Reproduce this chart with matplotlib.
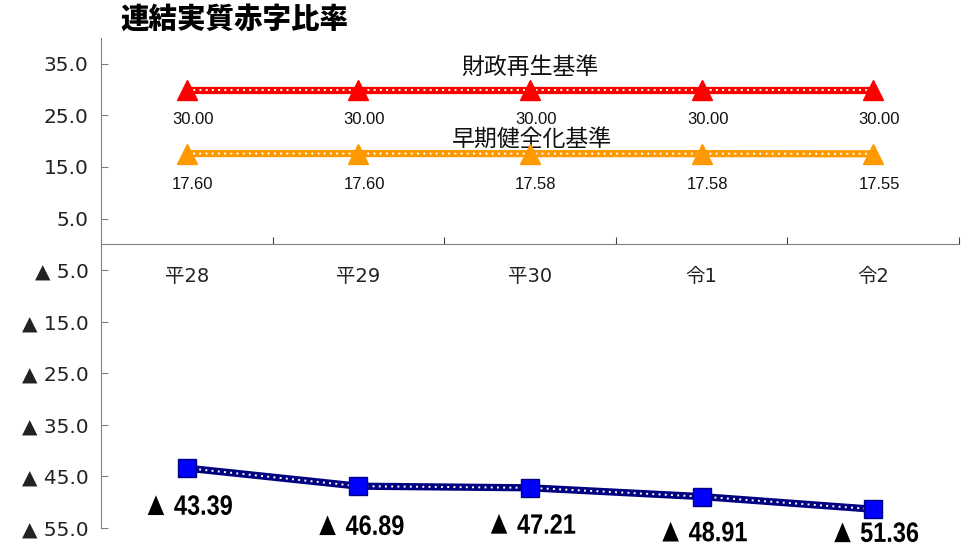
import matplotlib
matplotlib.use("Agg")
import matplotlib.pyplot as plt
from matplotlib.font_manager import FontProperties
from matplotlib.textpath import TextPath
from matplotlib.patches import PathPatch
from matplotlib.path import Path
from matplotlib.transforms import Affine2D

plt.rcParams['font.family'] = ['Noto Sans CJK JP', 'DejaVu Sans']

# Data
categories = ["平28", "平29", "平30", "令1", "令2"]
zaisei_saisei = [30.00, 30.00, 30.00, 30.00, 30.00]
souki_kenzenka = [17.60, 17.60, 17.58, 17.58, 17.55]
renketsu = [-43.39, -46.89, -47.21, -48.91, -51.36]
series_names = ["財政再生基準", "早期健全化基準"]
title = "連結実質赤字比率"
y_ticks = [35, 25, 15, 5, -5, -15, -25, -35, -45, -55]

W, H, DPI = 966, 547, 100
fig = plt.figure(figsize=(W / DPI, H / DPI), dpi=DPI)
ax = fig.add_axes([101 / W, (H - 528) / H, (959 - 101) / W, (528 - 38) / H])

x = list(range(len(categories)))
ax.set_xlim(-0.5, len(categories) - 0.5)
ax.set_ylim(-55, 40)


def dotted_line(values, color, marker, mcolor, msize, medge):
    ax.plot(x, values, color=color, lw=5.2, solid_capstyle='butt', zorder=3)
    ax.plot(x, values, color='white', lw=1.4, linestyle=(0, (1, 2.2)), zorder=4)
    ax.plot(x, values, linestyle='none', marker=marker, markersize=msize,
            markerfacecolor=mcolor, markeredgecolor=medge, markeredgewidth=1.0,
            zorder=5)


dotted_line(zaisei_saisei, '#FF0000', '^', '#FF0000', 15, '#FF0000')
dotted_line(souki_kenzenka, '#FF9900', '^', '#FF9900', 15, '#FF9900')
dotted_line(renketsu, '#000080', 's', '#0000FF', 13, '#000080')

# value labels
for xi, v in zip(x, zaisei_saisei):
    ax.annotate(f"{v:.2f}", (xi, v), xytext=(6, -30), textcoords='offset pixels',
                ha='center', va='center', fontsize=12, color='#111111',
                family=['Liberation Sans', 'DejaVu Sans'])
for xi, v in zip(x, souki_kenzenka):
    ax.annotate(f"{v:.2f}", (xi, v), xytext=(6, -31), textcoords='offset pixels',
                ha='center', va='center', fontsize=12, color='#111111',
                family=['Liberation Sans', 'DejaVu Sans'])

MARK_PROP = FontProperties(family=['DejaVu Sans'], weight='bold')
NUM_PROP = FontProperties(family=['Liberation Sans', 'DejaVu Sans'], weight='bold')


def condensed_label(xd, yd, value, dx, dy, size_px=28, squeeze=0.84, gap=12):
    """Bold condensed '▲ n.nn' label centred at a data point plus a pixel offset."""
    mark = TextPath((0, 0), "▲", size=size_px * 0.92, prop=MARK_PROP)
    num = TextPath((0, 0), f"{value:.2f}", size=size_px, prop=NUM_PROP)
    me, ne = mark.get_extents(), num.get_extents()
    mark = mark.transformed(Affine2D().translate(-me.x0, -me.y0 + ne.y0))
    num = num.transformed(Affine2D().translate(me.width + gap - ne.x0, 0))
    tp = Path.make_compound_path(mark, num)
    ext = tp.get_extents()
    cx, cy = (ext.x0 + ext.x1) / 2, (ext.y0 + ext.y1) / 2
    px, py = ax.transData.transform((xd, yd))
    tr = (Affine2D().translate(-cx, -cy).scale(squeeze, 1.0)
          .translate(px + dx, py + dy))
    patch = PathPatch(tp, transform=tr, facecolor='black', edgecolor='none',
                      zorder=6, clip_on=False)
    fig.patches.append(patch)
    patch.set_figure(fig)


blue_offsets = [-37, -39, -36, -35, -23]
for xi, v, dy in zip(x, renketsu, blue_offsets):
    condensed_label(xi, v, abs(v), 3, dy)

# series names
ax.text(2, 34.3, series_names[0], ha='center', va='center', fontsize=16.5,
        color='#111111')
ax.text(2.01, 20.3, series_names[1], ha='center', va='center', fontsize=16.5,
        color='#111111')

# y axis
ax.set_yticks(y_ticks)
ax.set_yticklabels([f"{t:.1f}" if t > 0 else f"▲ {abs(t):.1f}" for t in y_ticks],
                   fontsize=14.5, color='#222222', family=['DejaVu Sans'])
ax.tick_params(axis='y', direction='in', length=5, color='#808080', pad=9)

# x axis drawn through zero
for s in ('top', 'right'):
    ax.spines[s].set_visible(False)
ax.spines['left'].set_color('#808080')
ax.spines['left'].set_bounds(-55, 40)
ax.spines['bottom'].set_position(('data', 0))
ax.spines['bottom'].set_color('#808080')
ax.set_xticks([i + 0.5 for i in x])
ax.set_xticklabels([])
ax.tick_params(axis='x', which='major', direction='in', length=5, color='#404040')
ax.set_xticks(x, minor=True)
ax.set_xticklabels(categories, minor=True, fontsize=14, color='#222222',
                   family=['DejaVu Sans', 'Noto Sans CJK JP'])
ax.tick_params(axis='x', which='minor', length=0, pad=16)

fig.text(120 / W, 1 - 19 / H, title, ha='left', va='center', fontsize=20.5,
         fontweight='black', color='#000000')

fig.savefig("out.png", dpi=DPI)
